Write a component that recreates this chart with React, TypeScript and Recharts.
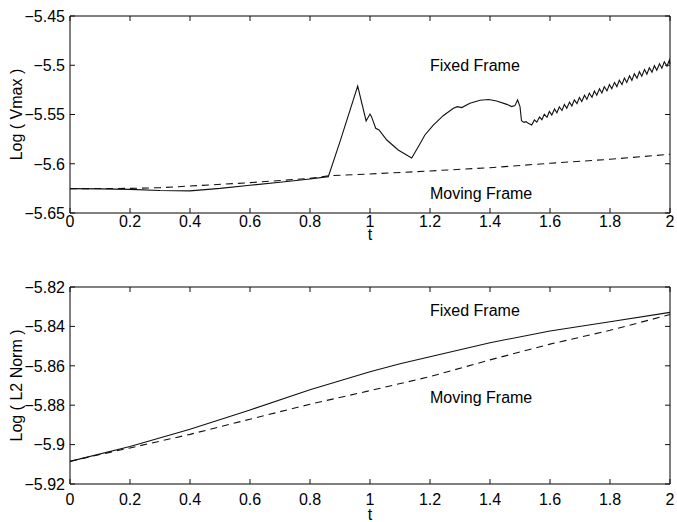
import React from "react";
import { LineChart, Line, XAxis, YAxis, ReferenceArea, ReferenceDot } from "recharts";

// values, as [t, value] pairs
const tTicks = [0, 0.2, 0.4, 0.6, 0.8, 1, 1.2, 1.4, 1.6, 1.8, 2];
const vmaxTicks = [-5.65, -5.6, -5.55, -5.5, -5.45];
const l2Ticks = [-5.92, -5.9, -5.88, -5.86, -5.84, -5.82];

const vmaxFixedEarly: [number, number][] = [
  [0, -5.6253], [0.1, -5.6255], [0.2, -5.626], [0.3, -5.6272], [0.4, -5.6275],
  [0.5, -5.625], [0.6, -5.6218], [0.7, -5.6188], [0.8, -5.6155], [0.861, -5.6131],
  [0.9, -5.5776], [0.959, -5.5211], [0.987, -5.5566], [1.0, -5.5495], [1.005, -5.5522],
  [1.019, -5.564], [1.03, -5.5657], [1.056, -5.5759], [1.094, -5.586], [1.122, -5.5911],
  [1.139, -5.5942], [1.161, -5.5827], [1.183, -5.5708], [1.211, -5.5607], [1.244, -5.5512],
  [1.278, -5.5437], [1.291, -5.542], [1.306, -5.543], [1.333, -5.5386], [1.367, -5.5355],
  [1.395, -5.5348], [1.422, -5.5363], [1.456, -5.5397], [1.472, -5.542], [1.483, -5.541],
  [1.492, -5.5353], [1.5, -5.542], [1.505, -5.5563], [1.513, -5.558], [1.52, -5.5573],
  [1.528, -5.559], [1.539, -5.5607],
];

const vmaxFixedWiggle: [number, number][] = [
  [1.548, -5.5555], [1.556, -5.5578], [1.565, -5.5526], [1.573, -5.5553], [1.581, -5.5498],
  [1.59, -5.5528], [1.598, -5.5469], [1.606, -5.5506], [1.615, -5.5444], [1.623, -5.5483],
  [1.631, -5.5422], [1.64, -5.5459], [1.648, -5.5398], [1.656, -5.5437], [1.665, -5.5374],
  [1.673, -5.5413], [1.681, -5.5351], [1.69, -5.539], [1.698, -5.5327], [1.706, -5.5368],
  [1.715, -5.5305], [1.723, -5.5346], [1.731, -5.5283], [1.74, -5.5325], [1.748, -5.5261],
  [1.756, -5.5304], [1.765, -5.5239], [1.773, -5.5282], [1.781, -5.5218], [1.79, -5.526],
  [1.798, -5.5196], [1.806, -5.5239], [1.815, -5.5174], [1.823, -5.5217], [1.831, -5.5153],
  [1.84, -5.5195], [1.848, -5.513], [1.856, -5.5175], [1.865, -5.5108], [1.873, -5.5153],
  [1.881, -5.5087], [1.89, -5.5131], [1.898, -5.5065], [1.906, -5.5111], [1.915, -5.5044],
  [1.923, -5.509], [1.931, -5.5025], [1.94, -5.507], [1.948, -5.5004], [1.956, -5.5051],
  [1.965, -5.4984], [1.973, -5.503], [1.981, -5.4965], [1.99, -5.501], [1.998, -5.4947],
  [2.0, -5.499],
];

const vmaxMoving: [number, number][] = [
  [0, -5.6253], [0.2, -5.625], [0.3, -5.6243], [0.4, -5.6226], [0.6, -5.6192],
  [0.8, -5.6148], [0.867, -5.6121], [1.0, -5.6104], [1.2, -5.6073], [1.4, -5.604],
  [1.6, -5.5995], [1.8, -5.5955], [2.0, -5.5904],
];

const l2Fixed: [number, number][] = [
  [0, -5.9085], [0.2, -5.901], [0.4, -5.8922], [0.6, -5.8824], [0.8, -5.8722],
  [1.0, -5.863], [1.1, -5.859], [1.2, -5.8554], [1.4, -5.8483], [1.6, -5.8423],
  [1.8, -5.8376], [2.0, -5.8329],
];

const l2Moving: [number, number][] = [
  [0, -5.9085], [0.1, -5.905], [0.2, -5.9017], [0.4, -5.8948], [0.6, -5.8871],
  [0.8, -5.8795], [1.0, -5.8726], [1.2, -5.8655], [1.4, -5.857], [1.6, -5.849],
  [1.8, -5.842], [2.0, -5.834],
];

const toRows = (pairs: [number, number][]) => pairs.map(([t, v]) => ({ t, v }));

const FONT = "'Liberation Sans', Arial, Helvetica, sans-serif";
const INK = "#111";
const CHART_W = 677;
const PLOT_W = 600;
const PLOT_H = 197;
const TICK_LEN = 5;

const fmt = (v: number) => String(v).replace("-", "\u2212");

const makeXTick = (labelDy: number) => (props: any) => {
  const { x, y, payload } = props;
  return (
    <g>
      <line x1={x} y1={y} x2={x} y2={y - TICK_LEN} stroke={INK} />
      <line x1={x} y1={y - PLOT_H} x2={x} y2={y - PLOT_H + TICK_LEN} stroke={INK} />
      <text x={x} y={y + labelDy} textAnchor="middle" fontSize={16} fontFamily={FONT} fill="#000">
        {fmt(payload.value)}
      </text>
    </g>
  );
};

const YTick = (props: any) => {
  const { x, y, payload } = props;
  return (
    <g>
      <line x1={x} y1={y} x2={x + TICK_LEN} y2={y} stroke={INK} />
      <line x1={x + PLOT_W} y1={y} x2={x + PLOT_W - TICK_LEN} y2={y} stroke={INK} />
      <text x={x - 5} y={y} dy="0.36em" textAnchor="end" fontSize={16} fontFamily={FONT} fill="#000">
        {fmt(payload.value)}
      </text>
    </g>
  );
};

function YTitle({ text, cy }: { text: string; cy: number }) {
  return (
    <text
      x={16}
      y={cy}
      transform={`rotate(-90, 16, ${cy})`}
      textAnchor="middle"
      dy="0.36em"
      fontSize={16}
      fontFamily={FONT}
      fill="#000"
    >
      {text}
    </text>
  );
}

function XTitle({ baseline }: { baseline: number }) {
  return (
    <text x={370} y={baseline} textAnchor="middle" fontSize={16} fontFamily={FONT} fill="#000">
      t
    </text>
  );
}

interface PanelProps {
  top: number;
  height: number;
  marginTop: number;
  xAxisHeight: number;
  labelDy: number;
  titleBaseline: number;
  yTicks: number[];
  yLabel: string;
  fixed: { t: number; v: number }[];
  moving: { t: number; v: number }[];
  fixedNote: number;
  movingNote: number;
}

function Panel(p: PanelProps) {
  const yMin = p.yTicks[0];
  const yMax = p.yTicks[p.yTicks.length - 1];
  const note = (value: string) => ({
    value,
    position: "right" as const,
    offset: 0,
    fontSize: 16,
    fontFamily: FONT,
    fill: "#000",
  });
  return (
    <div style={{ position: "absolute", left: 0, top: p.top }}>
      <LineChart
        width={CHART_W}
        height={p.height}
        margin={{ top: p.marginTop, right: 7, bottom: p.height - p.marginTop - PLOT_H - p.xAxisHeight, left: 0 }}
      >
        <XAxis
          dataKey="t"
          type="number"
          domain={[0, 2]}
          ticks={tTicks}
          interval={0}
          height={p.xAxisHeight}
          axisLine={false}
          tickLine={false}
          tickSize={0}
          tickMargin={0}
          tick={makeXTick(p.labelDy)}
          label={<XTitle baseline={p.titleBaseline} />}
        />
        <YAxis
          type="number"
          domain={[yMin, yMax]}
          ticks={p.yTicks}
          interval={0}
          width={70}
          axisLine={false}
          tickLine={false}
          tickSize={0}
          tickMargin={0}
          tick={YTick}
          label={<YTitle text={p.yLabel} cy={p.marginTop + PLOT_H / 2} />}
        />
        <ReferenceArea x1={0} x2={2} y1={yMin} y2={yMax} fill="none" stroke="#000" strokeWidth={1} />
        <Line
          data={p.moving}
          dataKey="v"
          type="linear"
          stroke={INK}
          strokeWidth={1.1}
          strokeDasharray="7 5"
          dot={false}
          isAnimationActive={false}
        />
        <Line
          data={p.fixed}
          dataKey="v"
          type="linear"
          stroke={INK}
          strokeWidth={1.1}
          dot={false}
          isAnimationActive={false}
        />
        <ReferenceDot x={1.2} y={p.fixedNote} r={0} fill="none" stroke="none" label={note("Fixed Frame")} />
        <ReferenceDot x={1.2} y={p.movingNote} r={0} fill="none" stroke="none" label={note("Moving Frame")} />
      </LineChart>
    </div>
  );
}

export default function App() {
  return (
    <div style={{ position: "absolute", left: 0, top: 0, width: 677, height: 522, background: "#fff" }}>
      <Panel
        top={0}
        height={250}
        marginTop={16}
        xAxisHeight={30}
        labelDy={13.7}
        titleBaseline={240}
        yTicks={vmaxTicks}
        yLabel="Log ( Vmax )"
        fixed={toRows([...vmaxFixedEarly, ...vmaxFixedWiggle])}
        moving={toRows(vmaxMoving)}
        fixedNote={-5.5}
        movingNote={-5.63}
      />
      <Panel
        top={261}
        height={261}
        marginTop={26}
        xAxisHeight={38}
        labelDy={21}
        titleBaseline={259}
        yTicks={l2Ticks}
        yLabel="Log ( L2 Norm )"
        fixed={toRows(l2Fixed)}
        moving={toRows(l2Moving)}
        fixedNote={-5.832}
        movingNote={-5.876}
      />
    </div>
  );
}
